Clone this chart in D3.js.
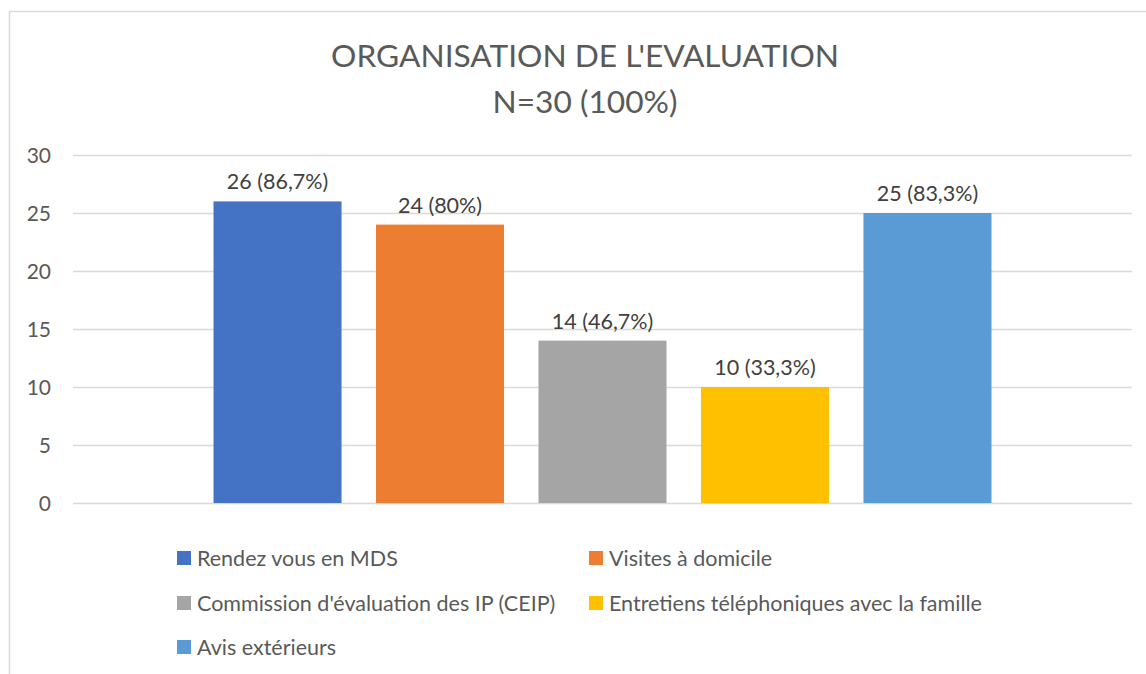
<!DOCTYPE html>
<html>
<head>
<meta charset="utf-8">
<script src="https://cdn.jsdelivr.net/npm/d3@7"></script>
<style>
  html, body { margin: 0; padding: 0; background: #fff; }
  svg { display: block; }
  text { font-family: Lato, "Open Sans", sans-serif; }
</style>
</head>
<body>
<svg id="chart" width="1146" height="674"></svg>
<script>
const titleLines = ["ORGANISATION DE L'EVALUATION", "N=30 (100%)"];
const series = ["Rendez vous en MDS", "Visites à domicile", "Commission d'évaluation des IP (CEIP)", "Entretiens téléphoniques avec la famille", "Avis extérieurs"];
const values = [26, 24, 14, 10, 25];
const valueLabels = ["26 (86,7%)", "24 (80%)", "14 (46,7%)", "10 (33,3%)", "25 (83,3%)"];
const colors = ["#4472C4", "#ED7D31", "#A5A5A5", "#FFC000", "#5B9BD5"];
const yTicks = [0, 5, 10, 15, 20, 25, 30];

const svg = d3.select("#chart");
const W = 1146, H = 674;
const plot = { left: 73, right: 1132, top: 155, bottom: 503 };

// chart border
svg.append("rect")
  .attr("x", 9.5).attr("y", 11.5)
  .attr("width", W + 20).attr("height", H + 20)
  .attr("fill", "#fff").attr("stroke", "#d9d9d9").attr("stroke-width", 1.5);

// title
svg.append("g").selectAll("text").data(titleLines).join("text")
  .attr("x", 585).attr("y", (d, i) => 67 + i * 46)
  .attr("text-anchor", "middle")
  .attr("fill", "#595959")
  .attr("font-size", 31.7)
  .text(d => d);

const y = d3.scaleLinear().domain([0, 30]).range([plot.bottom, plot.top]);
const x0 = d3.scaleBand().domain(["group"]).range([plot.left, plot.right]).paddingOuter(0.1806).paddingInner(0);
const x1 = d3.scaleBand().domain(series).range([x0("group"), x0("group") + x0.bandwidth()]).paddingInner(0.212).paddingOuter(0);

// gridlines + y axis
const yAxis = d3.axisLeft(y).tickValues(yTicks).tickSize(-(plot.right - plot.left)).tickPadding(22);
const gy = svg.append("g").attr("transform", `translate(${plot.left},0)`).call(yAxis);
gy.select(".domain").remove();
gy.selectAll(".tick line").attr("stroke", "#d9d9d9").attr("stroke-width", 1.5);
gy.selectAll(".tick text").attr("fill", "#595959").attr("font-size", 21)
  .attr("font-family", "Lato, 'Open Sans', sans-serif").attr("dy", "0.36em");

// bars
svg.append("g").selectAll("rect").data(series).join("rect")
  .attr("x", d => x1(d))
  .attr("y", (d, i) => y(values[i]))
  .attr("width", x1.bandwidth())
  .attr("height", (d, i) => y(0) - y(values[i]))
  .attr("fill", (d, i) => colors[i]);

// data labels
svg.append("g").selectAll("text").data(series).join("text")
  .attr("x", d => x1(d) + x1.bandwidth() / 2)
  .attr("y", (d, i) => y(values[i]) - 12)
  .attr("text-anchor", "middle")
  .attr("fill", "#404040")
  .attr("font-size", 21.5)
  .text((d, i) => valueLabels[i]);

// legend
const legendPos = [
  { x: 177, y: 558 }, { x: 589, y: 558 },
  { x: 177, y: 603 }, { x: 589, y: 603 },
  { x: 177, y: 647 }
];
const lg = svg.append("g").selectAll("g").data(series).join("g")
  .attr("transform", (d, i) => `translate(${legendPos[i].x},${legendPos[i].y})`);
lg.append("rect").attr("x", 0).attr("y", -7).attr("width", 14).attr("height", 14)
  .attr("fill", (d, i) => colors[i]);
lg.append("text").attr("x", 20).attr("y", 0).attr("dy", "0.35em")
  .attr("fill", "#595959").attr("font-size", 21.5)
  .text(d => d);
</script>
</body>
</html>
